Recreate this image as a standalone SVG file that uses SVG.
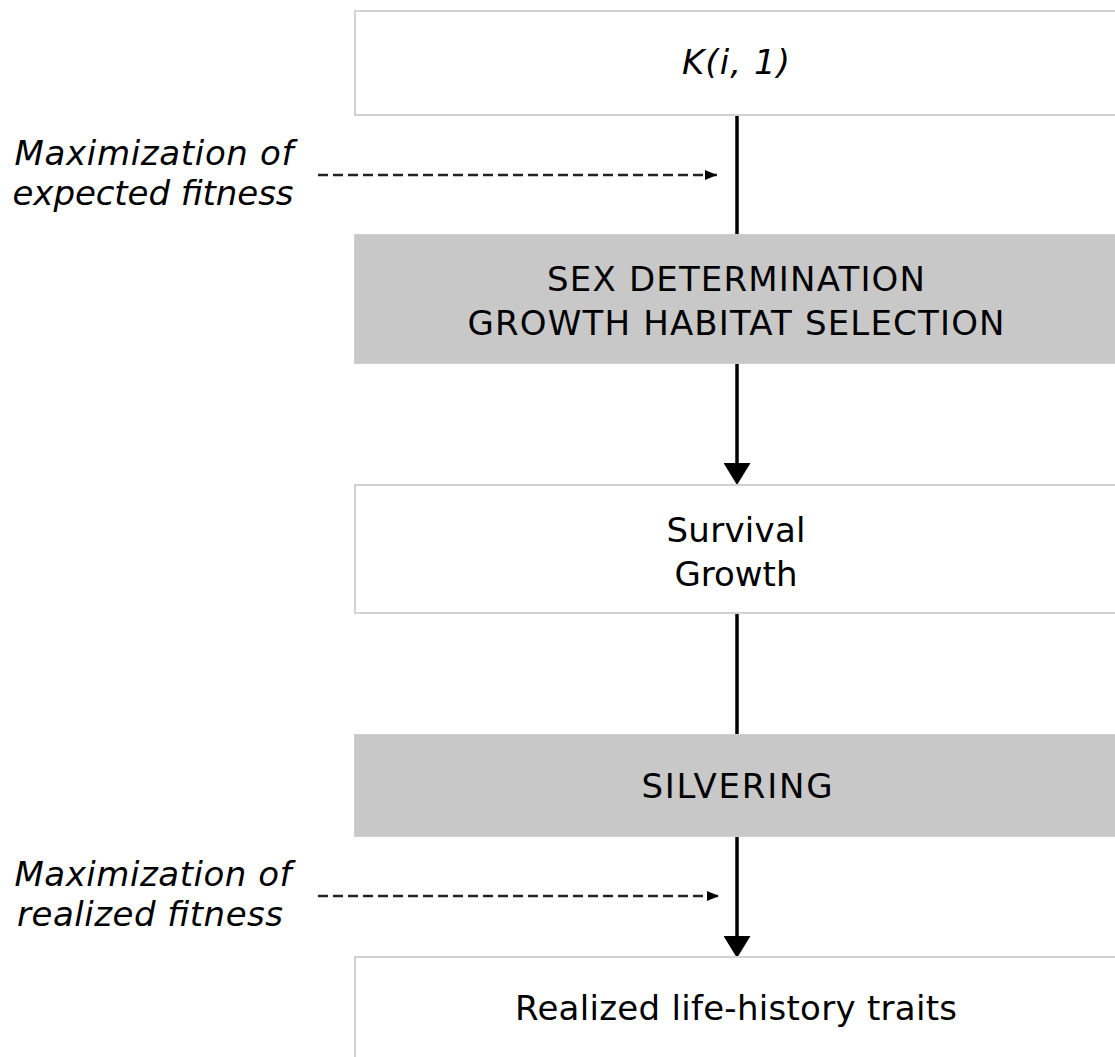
<svg xmlns="http://www.w3.org/2000/svg" width="1115" height="1057" viewBox="0 0 1115 1057">
  <style>
    .box { fill: #ffffff; stroke: #d2d2d2; stroke-width: 2; }
    .gbox { fill: #c8c8c8; stroke: #cfcfcf; stroke-width: 1; }
    .t { font-family: "DejaVu Sans", Verdana, sans-serif; font-size: 34px; fill: #000; text-anchor: middle; }
    .lbl { font-family: "DejaVu Sans", Verdana, sans-serif; font-size: 34px; font-style: italic; fill: #000; text-anchor: middle; }
    .main { stroke: #000; stroke-width: 3.5; fill: none; }
    .dash { stroke: #222; stroke-width: 2.5; stroke-dasharray: 10 5; fill: none; }
  </style>
  <defs>
    <marker id="ah" markerUnits="userSpaceOnUse" viewBox="0 0 22 27" markerWidth="22" markerHeight="27" refX="7" refY="13.5" orient="auto">
      <path d="M0,0 L22,13.5 L0,27 Z" fill="#000"/>
    </marker>
    <marker id="ahs" markerUnits="userSpaceOnUse" viewBox="0 0 12 10" markerWidth="12" markerHeight="10" refX="12" refY="5" orient="auto">
      <path d="M0,0 L12,5 L0,10 Z" fill="#000"/>
    </marker>
  </defs>

  <g id="connectors">
    <line class="main" x1="737" y1="115" x2="737" y2="234"/>
    <line class="main" x1="737" y1="364" x2="737" y2="470" marker-end="url(#ah)"/>
    <line class="main" x1="737" y1="613" x2="737" y2="734"/>
    <line class="main" x1="737" y1="837" x2="737" y2="943" marker-end="url(#ah)"/>
    <line class="dash" x1="318" y1="175" x2="717" y2="175" marker-end="url(#ahs)"/>
    <line class="dash" x1="318" y1="896" x2="719" y2="896" marker-end="url(#ahs)"/>
  </g>

  <g id="node-k">
    <rect class="box" x="355" y="11" width="800" height="104"/>
    <text class="t" x="736" y="74" font-style="italic" textLength="108">K(i, 1)</text>
  </g>

  <g id="node-sex">
    <rect class="gbox" x="354.5" y="234.5" width="800" height="129"/>
    <text class="t" x="736" y="291" textLength="378">SEX DETERMINATION</text>
    <text class="t" x="736" y="335" textLength="537">GROWTH HABITAT SELECTION</text>
  </g>

  <g id="node-survival">
    <rect class="box" x="355" y="485" width="800" height="128"/>
    <text class="t" x="736" y="542" textLength="139">Survival</text>
    <text class="t" x="736" y="586" textLength="123">Growth</text>
  </g>

  <g id="node-silvering">
    <rect class="gbox" x="354.5" y="734.5" width="800" height="102"/>
    <text class="t" x="737" y="798" textLength="191">SILVERING</text>
  </g>

  <g id="node-realized">
    <rect class="box" x="355" y="957" width="800" height="140"/>
    <text class="t" x="736" y="1020" textLength="442">Realized life-history traits</text>
  </g>

  <g id="label-expected">
    <text class="lbl" x="154" y="165" textLength="279">Maximization of</text>
    <text class="lbl" x="153" y="205" textLength="281">expected fitness</text>
  </g>

  <g id="label-realized">
    <text class="lbl" x="153" y="886" textLength="277">Maximization of</text>
    <text class="lbl" x="150" y="926" textLength="266">realized fitness</text>
  </g>
</svg>
